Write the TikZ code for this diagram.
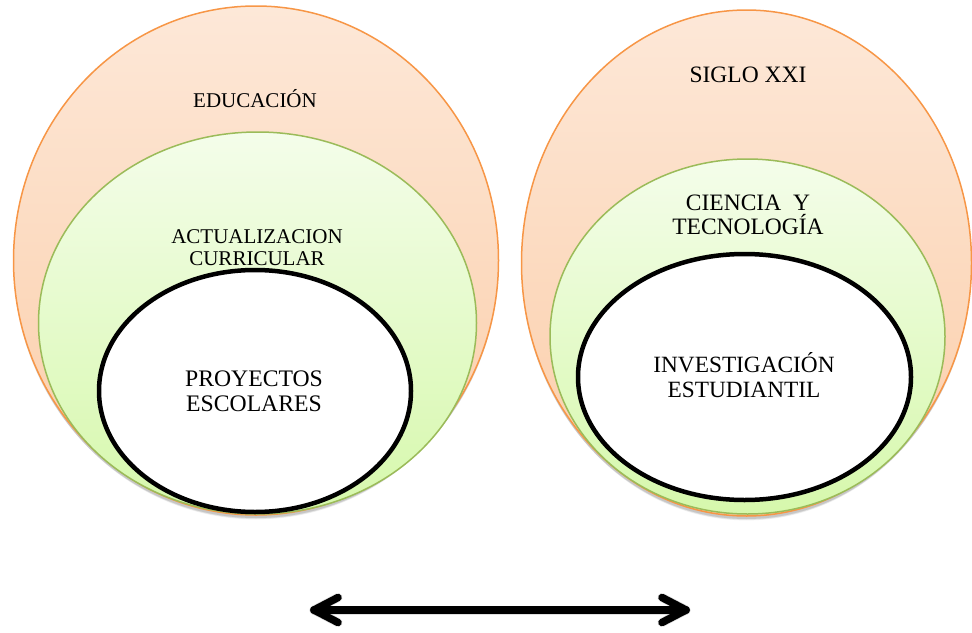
\documentclass[tikz,border=0pt]{standalone}
\usepackage{fontspec}
\setmainfont{Liberation Serif}
\usetikzlibrary{shapes.geometric,shadows}
\definecolor{orTop}{RGB}{253,232,216}
\definecolor{orBot}{RGB}{251,205,168}
\definecolor{orLine}{RGB}{247,150,70}
\definecolor{grTop}{RGB}{244,253,234}
\definecolor{grBot}{RGB}{214,248,172}
\definecolor{grLine}{RGB}{155,187,89}
\tikzset{
  softshadow/.style={
    general shadow={shadow yshift=-7pt, shadow scale=0.99, opacity=0.06, fill=black},
    general shadow={shadow yshift=-5pt, shadow scale=0.995, opacity=0.08, fill=black},
    general shadow={shadow yshift=-3pt, opacity=0.10, fill=black}},
  outerell/.style={ellipse, inner sep=0pt, draw=orLine, line width=1.5pt,
    top color=orTop, bottom color=orBot, softshadow},
  greenell/.style={ellipse, inner sep=0pt, draw=grLine, line width=1.5pt,
    top color=grTop, bottom color=grBot},
  blackell/.style={ellipse, inner sep=0pt, draw=black, line width=4.5pt, fill=white},
  lbl/.style={anchor=base, inner sep=0pt, text=black},
  arrowline/.style={line width=7.5pt, line cap=round, line join=round, draw=black},
  arrowshadow/.style={line width=9pt, line cap=round, line join=round, draw=black, opacity=0.12}
}
\begin{document}
\begin{tikzpicture}[x=1pt,y=-1pt]
\useasboundingbox (0,0) rectangle (972,632);
% left group
\node[outerell, minimum width=485pt, minimum height=509pt] (eduO) at (256,260.5) {};
\node[greenell, minimum width=438pt, minimum height=382pt] (actG) at (257.5,323) {};
\node[blackell, minimum width=312pt, minimum height=242pt] (proB) at (255,391) {};
\node[lbl, font=\fontsize{21}{22}\selectfont] (edu) at (255,107) {EDUCACIÓN};
\node[lbl, font=\fontsize{21}{22}\selectfont] (act1) at (257,243) {ACTUALIZACION};
\node[lbl, font=\fontsize{21}{22}\selectfont] (act2) at (257,265) {CURRICULAR};
\node[lbl, font=\fontsize{23.7}{25}\selectfont] (pro1) at (254,386) {PROYECTOS};
\node[lbl, font=\fontsize{23.7}{25}\selectfont] (pro2) at (254,411) {ESCOLARES};
% right group
\node[outerell, minimum width=450pt, minimum height=506pt] (sigO) at (746.5,263) {};
\node[greenell, minimum width=395pt, minimum height=355pt] (cieG) at (747.5,336.5) {};
\node[blackell, minimum width=333pt, minimum height=246pt] (invB) at (744.5,377) {};
\node[lbl, font=\fontsize{23.5}{25}\selectfont] (sig) at (748,82) {SIGLO XXI};
\node[lbl, font=\fontsize{23.5}{25}\selectfont] (cie1) at (748,210) {CIENCIA\ \ Y};
\node[lbl, font=\fontsize{23.5}{25}\selectfont] (cie2) at (748,234) {TECNOLOGÍA};
\node[lbl, font=\fontsize{23.3}{25}\selectfont] (inv1) at (744,372) {INVESTIGACIÓN};
\node[lbl, font=\fontsize{23.3}{25}\selectfont] (inv2) at (744,397) {ESTUDIANTIL};
% double arrow
\coordinate (aL) at (314,610);
\coordinate (aR) at (686,610);
\coordinate (aL1) at (338,597.5);
\coordinate (aL2) at (338,622.5);
\coordinate (aR1) at (662,597.5);
\coordinate (aR2) at (662,622.5);
\begin{scope}[yshift=-3pt]
\draw[arrowshadow] (aL) -- (aR);
\draw[arrowshadow] (aL1) -- (aL) -- (aL2);
\draw[arrowshadow] (aR1) -- (aR) -- (aR2);
\end{scope}
\draw[arrowline] (aL) -- (aR);
\draw[arrowline] (aL1) -- (aL) -- (aL2);
\draw[arrowline] (aR1) -- (aR) -- (aR2);
\end{tikzpicture}
\end{document}
